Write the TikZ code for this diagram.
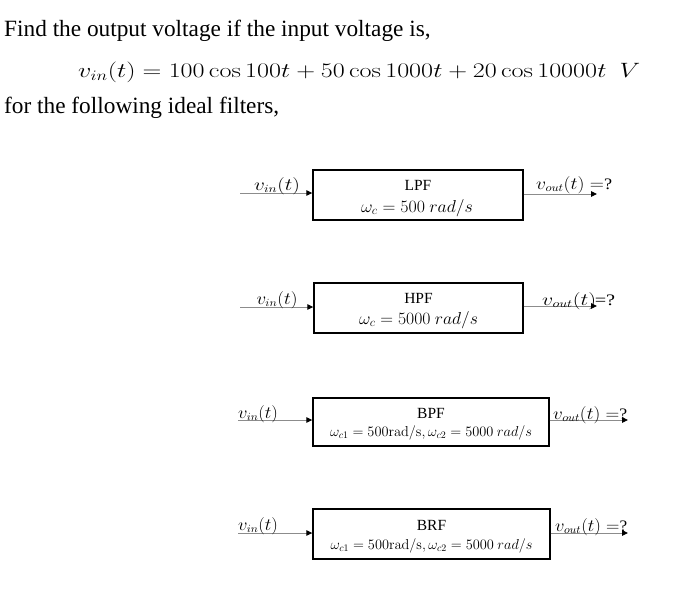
\documentclass[tikz,border=0pt]{standalone}
\usepackage[no-math]{fontspec}
\setmainfont{Liberation Serif}
\usepackage{graphicx}
\usetikzlibrary{arrows.meta}
\newcommand{\wid}[2]{\scalebox{#1}[1]{#2}}
\begin{document}
\begin{tikzpicture}[x=1pt,y=-1pt,
  txt/.style={inner sep=0pt, anchor=base west},
  lbl/.style={inner sep=0pt, anchor=base},
  lblo/.style={inner sep=0pt, anchor=base west},
  inbox/.style={inner sep=0pt},
  fbox/.style={draw=black, line width=1.4pt, inner sep=0pt, rectangle},
  sig/.style={draw=black!45, line width=0.9pt, -{Triangle[length=6pt,width=5.5pt,color=black]}}]
\fill[white] (0,0) rectangle (700,611);
\useasboundingbox (0,0) rectangle (700,611);

% header text
\node[txt] (l1) at (4,36) {\fontsize{23.3}{27}\selectfont Find the output voltage if the input voltage is,};
\node[txt] (eq) at (78,77) {\resizebox{562pt}{\height}{\fontsize{21}{25}\selectfont $v_{in}(t) = 100\cos 100t + 50\cos 1000t + 20\cos 10000t\ \ V$}};
\node[txt] (l3) at (4,113) {\fontsize{23.3}{27}\selectfont for the following ideal filters,};

% LPF
\node[fbox, minimum width=210pt, minimum height=50pt] (b1) at (418,195) {};
\node[inbox] (b1a) at (418,185) {\fontsize{15.5}{18}\selectfont LPF};
\node[inbox] (b1b) at (417,208) {\resizebox{112pt}{\height}{\fontsize{16.5}{19}\selectfont $\omega_c = 500\ rad/s$}};
\coordinate (i1) at (240,193);
\coordinate (o1) at (597,194);
\draw[sig] (i1) -- (i1 -| b1.west);
\draw[sig] (o1 -| b1.east) -- (o1);
\node[lbl] (v1i) at (277,190) {\resizebox{46pt}{\height}{\fontsize{16}{18}\selectfont $v_{in}(t)$}};
\node[lblo] (v1o) at (536,189) {\resizebox{76pt}{\height}{\fontsize{16}{18}\selectfont $v_{out}(t) =$?}};

% HPF
\node[fbox, minimum width=209pt, minimum height=50pt] (b2) at (418.5,308) {};
\node[inbox] (b2a) at (418.5,298) {\fontsize{15.5}{18}\selectfont HPF};
\node[inbox] (b2b) at (418.5,320) {\resizebox{119pt}{\height}{\fontsize{16.5}{19}\selectfont $\omega_c = 5000\ rad/s$}};
\coordinate (i2) at (240,307);
\coordinate (o2) at (597,306);
\draw[sig] (i2) -- (i2 -| b2.west);
\draw[sig] (o2 -| b2.east) -- (o2);
\node[lbl] (v2i) at (277,304) {\resizebox{41pt}{\height}{\fontsize{16}{18}\selectfont $v_{in}(t)$}};
\node[lblo] (v2o) at (542,305) {\resizebox{73pt}{\height}{\fontsize{16}{18}\selectfont $v_{out}(t)$\kern-1pt=?}};

% BPF
\node[fbox, minimum width=236pt, minimum height=48pt] (b3) at (431,422) {};
\node[inbox] (b3a) at (431,413) {\fontsize{15.5}{18}\selectfont BPF};
\node[inbox] (b3b) at (431,433) {\resizebox{202pt}{\height}{\fontsize{14}{16}\selectfont $\omega_{c1} = 500\mathrm{rad/s}, \omega_{c2} = 5000\ rad/s$}};
\coordinate (i3) at (238,420);
\coordinate (o3) at (628,420);
\draw[sig] (i3) -- (i3 -| b3.west);
\draw[sig] (o3 -| b3.east) -- (o3);
\node[lbl] (v3i) at (258,418) {\resizebox{40pt}{\height}{\fontsize{16}{18}\selectfont $v_{in}(t)$}};
\node[lblo] (v3o) at (553,419) {\resizebox{74pt}{\height}{\fontsize{16}{18}\selectfont $v_{out}(t) =$?}};

% BRF
\node[fbox, minimum width=237pt, minimum height=50pt] (b4) at (431.5,534) {};
\node[inbox] (b4a) at (431.5,525.5) {\fontsize{15.5}{18}\selectfont BRF};
\node[inbox] (b4b) at (431.5,546) {\resizebox{202pt}{\height}{\fontsize{14}{16}\selectfont $\omega_{c1} = 500\mathrm{rad/s}, \omega_{c2} = 5000\ rad/s$}};
\coordinate (i4) at (238,533);
\coordinate (o4) at (628,533);
\draw[sig] (i4) -- (i4 -| b4.west);
\draw[sig] (o4 -| b4.east) -- (o4);
\node[lbl] (v4i) at (258,530) {\resizebox{40pt}{\height}{\fontsize{16}{18}\selectfont $v_{in}(t)$}};
\node[lblo] (v4o) at (555,531) {\resizebox{72pt}{\height}{\fontsize{16}{18}\selectfont $v_{out}(t) =$?}};
\end{tikzpicture}
\end{document}
